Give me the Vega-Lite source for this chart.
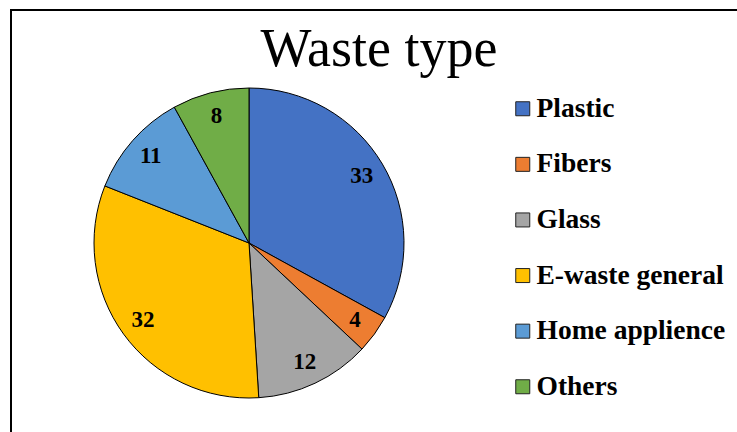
{
  "$schema": "https://vega.github.io/schema/vega-lite/v6.json",
  "width": 736,
  "height": 466,
  "autosize": {"type": "none"},
  "padding": {"left": 11, "top": 10, "right": -10, "bottom": -44},
  "background": "white",
  "title": {
    "text": "Waste type",
    "font": "Liberation Serif",
    "fontSize": 54,
    "fontWeight": "normal",
    "color": "black",
    "anchor": "middle",
    "frame": "group",
    "orient": "top",
    "offset": -110,
    "baseline": "alphabetic"
  },
  "data": {
    "values": [
      {"type": "Plastic", "value": 33, "idx": 1},
      {"type": "Fibers", "value": 4, "idx": 2},
      {"type": "Glass", "value": 12, "idx": 3},
      {"type": "E-waste general", "value": 32, "idx": 4},
      {"type": "Home applience", "value": 11, "idx": 5},
      {"type": "Others", "value": 8, "idx": 6}
    ]
  },
  "encoding": {
    "theta": {"field": "value", "type": "quantitative", "stack": true},
    "order": {"field": "idx", "type": "quantitative"},
    "x": {
      "datum": 0,
      "type": "quantitative",
      "scale": {"domain": [-1, 2.0924], "nice": false, "zero": false},
      "axis": null
    }
  },
  "layer": [
    {
      "mark": {"type": "arc", "stroke": "black", "strokeWidth": 1, "radius": 155},
      "encoding": {
        "color": {
          "field": "type",
          "type": "nominal",
          "scale": {
            "domain": ["Plastic", "Fibers", "Glass", "E-waste general", "Home applience", "Others"],
            "range": ["#4472C4", "#ED7D31", "#A5A5A5", "#FFC000", "#5B9BD5", "#70AD47"]
          },
          "legend": {
            "title": null,
            "orient": "none",
            "legendX": 498,
            "legendY": 85,
            "direction": "vertical",
            "symbolType": "square",
            "symbolSize": 196,
            "symbolStrokeColor": "#222222",
            "symbolStrokeWidth": 1,
            "symbolOpacity": 1,
            "labelFont": "Liberation Serif",
            "labelFontSize": 27.5,
            "labelFontWeight": "bold",
            "labelColor": "black",
            "labelOffset": 0,
            "labelLimit": 400,
            "rowPadding": 26.6
          }
        }
      }
    },
    {
      "mark": {
        "type": "text",
        "radius": 131,
        "font": "Liberation Serif",
        "fontSize": 23,
        "fontWeight": "bold",
        "fill": "black"
      },
      "encoding": {
        "text": {"field": "value", "type": "quantitative"},
        "detail": {"field": "type", "type": "nominal"}
      }
    }
  ],
  "config": {"view": {"stroke": "black", "strokeWidth": 2}}
}
